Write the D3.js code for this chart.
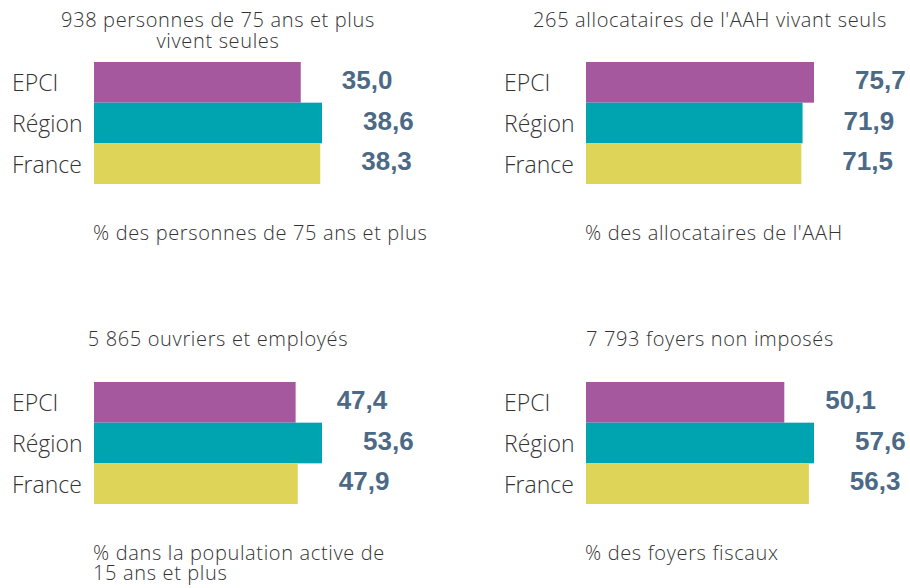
<!DOCTYPE html>
<html>
<head>
<meta charset="utf-8">
<script src="https://cdn.jsdelivr.net/npm/d3@7"></script>
<style>
  html, body { margin: 0; padding: 0; background: #fff; }
  svg { display: block; }
  .lbl, .ttl, .note { font-family: "Open Sans", "Noto Sans", sans-serif; font-weight: 300; fill: #333; }
  .ttl, .note { letter-spacing: 0.65px; }
  .val { font-family: "Liberation Sans", Arial, sans-serif; font-weight: bold; fill: #4c6a86; }
</style>
</head>
<body>
<svg id="chart" width="910" height="588"></svg>
<script>
const categories = ["EPCI", "Région", "France"];
const colors = ["#a6589f", "#00a3b0", "#ddd458"];

const titles = [
  ["938 personnes de 75 ans et plus", "vivent seules"],
  ["265 allocataires de l'AAH vivant seuls"],
  ["5 865 ouvriers et employés"],
  ["7 793 foyers non imposés"]
];
const notes = [
  ["% des personnes de 75 ans et plus"],
  ["% des allocataires de l'AAH"],
  ["% dans la population active de", "15 ans et plus"],
  ["% des foyers fiscaux"]
];
const values75Seules = [35.0, 38.6, 38.3];
const valuesAAH = [75.7, 71.9, 71.5];
const valuesOuvriers = [47.4, 53.6, 47.9];
const valuesNonImposes = [50.1, 57.6, 56.3];
const panelValues = [values75Seules, valuesAAH, valuesOuvriers, valuesNonImposes];

const fr = d3.formatLocale({decimal: ",", thousands: " ", grouping: [3], currency: ["", " €"]});
const fmt = fr.format(".1f");

const svg = d3.select("#chart");
const layout = [
  {bx: 94, by: 62, lx: 12, tc: 218, ty: 27},
  {bx: 586, by: 62, lx: 504, tc: 710, ty: 27},
  {bx: 94, by: 382, lx: 12, tc: 218, ty: 346},
  {bx: 586, by: 382, lx: 504, tc: 710, ty: 346}
];

panelValues.forEach((vals, i) => {
  const L = layout[i];
  const g = svg.append("g");
  const x = d3.scaleLinear().domain([0, d3.max(vals)]).range([0, 228]);
  const y = d3.scaleBand().domain(categories).range([L.by, L.by + 122]).padding(0);
  const data = categories.map((c, j) => ({c, v: vals[j], col: colors[j]}));

  // title
  g.append("text").attr("class", "ttl")
    .attr("x", L.tc).attr("y", L.ty).attr("text-anchor", "middle")
    .style("font-size", "20px")
    .selectAll("tspan").data(titles[i]).join("tspan")
    .attr("x", L.tc).attr("dy", (d, k) => k === 0 ? 0 : 21).text(d => d);

  g.selectAll("rect").data(data).join("rect")
    .attr("x", L.bx).attr("y", d => y(d.c))
    .attr("width", d => x(d.v)).attr("height", y.bandwidth())
    .attr("fill", d => d.col);

  g.selectAll("text.lbl").data(data).join("text").attr("class", "lbl")
    .attr("x", L.lx).attr("y", d => y(d.c) + y.bandwidth() / 2 + 9)
    .style("font-size", "23px").text(d => d.c);

  g.selectAll("text.val").data(data).join("text").attr("class", "val")
    .attr("x", d => L.bx + x(d.v) + 41).attr("y", d => y(d.c) + y.bandwidth() / 2 + 6.5)
    .style("font-size", "26px").text(d => fmt(d.v));

  g.append("text").attr("class", "note")
    .attr("x", L.bx - 1).attr("y", L.by + 178)
    .style("font-size", "20px")
    .selectAll("tspan").data(notes[i]).join("tspan")
    .attr("x", L.bx - 1).attr("dy", (d, k) => k === 0 ? 0 : 20).text(d => d);
});
</script>
</body>
</html>
